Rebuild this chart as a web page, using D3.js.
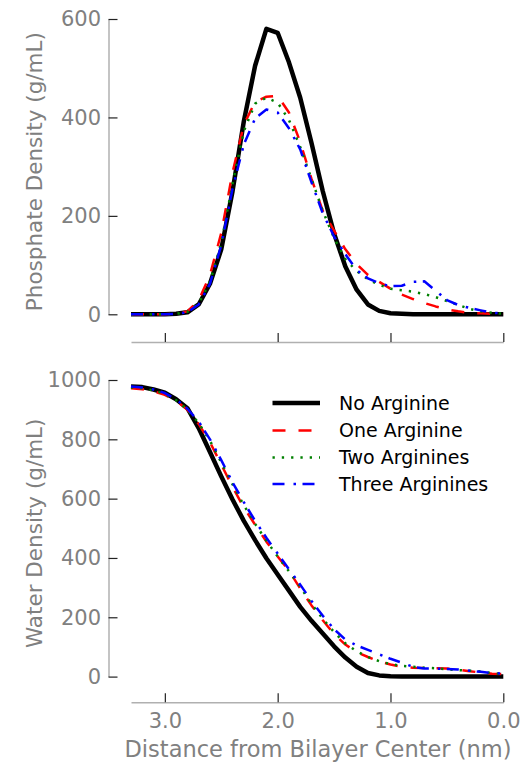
<!DOCTYPE html>
<html>
<head>
<meta charset="utf-8">
<script src="https://cdn.jsdelivr.net/npm/d3@7"></script>
<style>
  body { margin: 0; background: #fff; }
  svg { display: block; font-family: "DejaVu Sans", sans-serif; }
  .axis .domain { stroke: #b0b0b0; stroke-width: 1.5; }
  .axis .tick line { stroke: #222; stroke-width: 1.2; }
  .axis .tick text { fill: #808080; font-size: 21px; }
  .axis-title { fill: #808080; font-size: 21.5px; }
  .legend text { fill: #000; font-size: 19px; }
</style>
</head>
<body>
<div id="chart"></div>
<script>
// distance from bilayer center (nm)
const distance = [3.3, 3.2, 3.1, 3.0, 2.9, 2.8, 2.7, 2.6, 2.5, 2.4, 2.3, 2.2, 2.1, 2.0, 1.9, 1.8, 1.7,
    1.6, 1.5, 1.4, 1.3, 1.2, 1.1, 1.0, 0.9, 0.8, 0.7, 0.6, 0.5, 0.4, 0.3, 0.2, 0.1, 0.0];

const seriesNames = ['No Arginine', 'One Arginine', 'Two Arginines', 'Three Arginines'];

// phosphate density (g/mL)
const phosNone = [0, 0, 0, 0, 1, 4, 20, 62, 132, 250, 392, 505, 580, 572, 512, 440, 348,
    250, 164, 97, 50, 20, 7, 2, 1, 0, 0, 0, 0, 0, 0, 0, 0, 0];
const phosOne = [0, 0, 0, 0, 1, 6, 28, 80, 165, 288, 385, 432, 442, 444, 410, 350, 275,
    210, 170, 132, 102, 80, 66, 52, 40, 31, 23, 16, 10, 6, 3, 2, 1, 0];
const phosTwo = [0, 0, 0, 0, 1, 5, 22, 66, 145, 265, 372, 428, 440, 430, 395, 340, 275,
    210, 155, 112, 88, 71, 60, 52, 49, 46, 41, 35, 27, 19, 11, 6, 3, 1];
const phosThree = [0, 0, 0, 0, 1, 4, 20, 62, 140, 255, 345, 398, 416, 410, 378, 335, 268,
    205, 158, 122, 90, 73, 63, 57, 58, 66, 67, 48, 29, 19, 13, 8, 3, 2];

// water density (g/mL)
const waterNone = [978, 976, 968, 957, 935, 905, 838, 757, 675, 597, 525, 460, 399, 344, 290, 235, 188,
    145, 102, 64, 33, 12, 4, 1, 0, 0, 0, 0, 0, 0, 0, 0, 0, 0];
const waterOne = [972, 969, 962, 950, 930, 900, 852, 790, 715, 640, 570, 512, 455, 405, 357, 297, 240,
    190, 143, 108, 82, 66, 51, 41, 33, 30, 29, 28, 27, 24, 18, 14, 10, 8];
const waterTwo = [975, 972, 965, 953, 932, 900, 855, 795, 722, 648, 578, 515, 458, 405, 355, 303, 245,
    195, 150, 112, 85, 66, 52, 42, 36, 33, 30, 28, 25, 22, 20, 17, 12, 8];
const waterThree = [978, 975, 968, 956, 935, 903, 860, 800, 730, 655, 588, 525, 468, 415, 362, 310, 255,
    205, 160, 125, 105, 90, 75, 60, 47, 33, 27, 27, 26, 24, 20, 16, 12, 10];

const xTicks = [3, 2, 1, 0];
const phosTicks = [0, 200, 400, 600];
const waterTicks = [0, 200, 400, 600, 800, 1000];

const styles = [
    { color: '#000000', width: 4.5, dash: null },
    { color: '#ff0000', width: 2.5, dash: '13,13' },
    { color: '#008000', width: 2.5, dash: '2.3,7' },
    { color: '#0000ff', width: 2.5, dash: '12,9,2.5,6.5' }
];

const W = 523, H = 763;
const svg = d3.select('#chart').append('svg')
    .attr('width', W)
    .attr('height', H);

const x = d3.scaleLinear().domain([3.3, 0]).range([131, 503.3]);
const spineX = 108.5;

const panels = [
    { title: 'Phosphate Density (g/mL)', series: [phosNone, phosOne, phosTwo, phosThree],
      domain: [0, 600], range: [314.3, 19], ticks: phosTicks, xAxisY: 342, xLabels: false },
    { title: 'Water Density (g/mL)', series: [waterNone, waterOne, waterTwo, waterThree],
      domain: [0, 1000], range: [676.6, 380], ticks: waterTicks, xAxisY: 702.3, xLabels: true }
];

panels.forEach(p => {
    const y = d3.scaleLinear().domain(p.domain).range(p.range);

    // y axis, ticks pointing inward
    svg.append('g')
        .attr('class', 'axis')
        .attr('transform', `translate(${spineX},0)`)
        .call(d3.axisLeft(y).tickValues(p.ticks).tickFormat(d3.format('d'))
            .tickSizeInner(-9).tickSizeOuter(0).tickPadding(7.5));

    // x axis
    const xAxis = d3.axisBottom(x).tickValues(xTicks).tickSizeInner(-9).tickSizeOuter(0).tickPadding(11)
        .tickFormat(p.xLabels ? d3.format('.1f') : '');
    svg.append('g')
        .attr('class', 'axis')
        .attr('transform', `translate(0,${p.xAxisY})`)
        .call(xAxis);

    svg.selectAll('.axis text').attr('font-family', '"DejaVu Sans", sans-serif');

    const midY = (p.range[0] + p.range[1]) / 2 + 5;
    svg.append('text')
        .attr('class', 'axis-title')
        .attr('transform', `translate(42,${midY}) rotate(-90)`)
        .attr('text-anchor', 'middle')
        .text(p.title);

    const line = d3.line()
        .x((d, i) => x(distance[i]))
        .y(d => y(d));

    p.series.forEach((vals, k) => {
        svg.append('path')
            .datum(vals)
            .attr('fill', 'none')
            .attr('stroke', styles[k].color)
            .attr('stroke-width', styles[k].width)
            .attr('stroke-dasharray', styles[k].dash)
            .attr('stroke-linejoin', 'round')
            .attr('d', line);
    });
});

svg.append('text')
    .attr('class', 'axis-title')
    .attr('x', 318)
    .attr('y', 757)
    .attr('text-anchor', 'middle')
    .style('font-size', '22.5px')
    .text('Distance from Bilayer Center (nm)');

// legend
const legend = svg.append('g').attr('class', 'legend');
const rowY = [403, 430.5, 457.5, 484];
seriesNames.forEach((name, k) => {
    legend.append('line')
        .attr('x1', 272.5).attr('x2', 320)
        .attr('y1', rowY[k]).attr('y2', rowY[k])
        .attr('stroke', styles[k].color)
        .attr('stroke-width', styles[k].width)
        .attr('stroke-dasharray', styles[k].dash);
    legend.append('text')
        .attr('x', 339)
        .attr('y', rowY[k])
        .attr('dy', '0.35em')
        .text(name);
});
</script>
</body>
</html>
